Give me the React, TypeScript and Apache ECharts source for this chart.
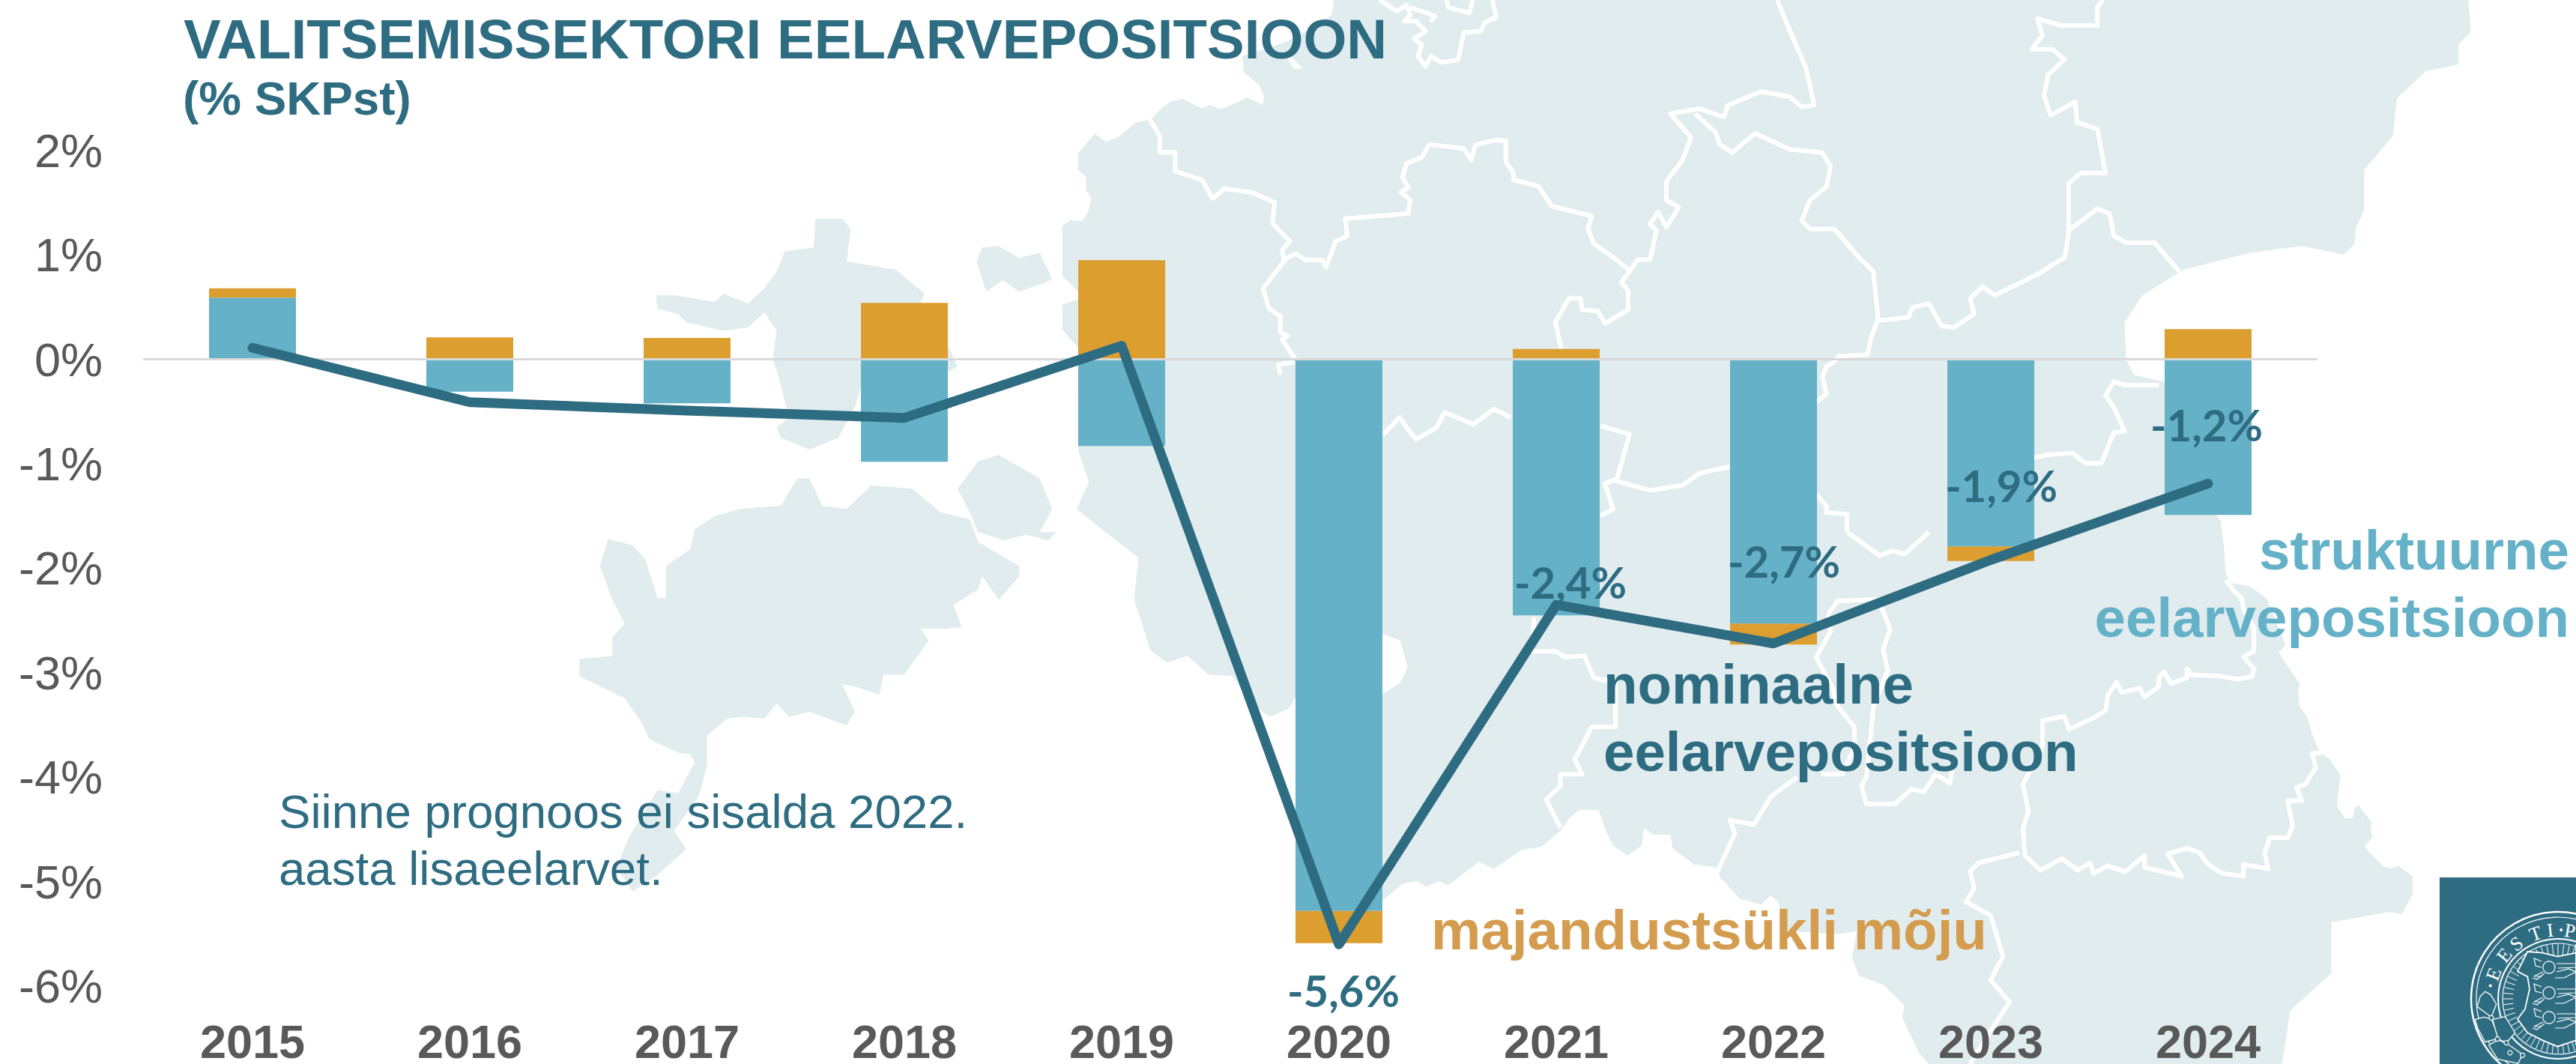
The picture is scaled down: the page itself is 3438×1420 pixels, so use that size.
import React, { useEffect, useRef } from "react";
import * as echarts from "echarts";

const categories = ["2015", "2016", "2017", "2018", "2019", "2020", "2021", "2022", "2023", "2024"];
const structural = [0.59, -0.31, -0.42, -0.98, -0.83, -5.28, -2.45, -2.53, -1.79, -1.49];
const cycle = [0.09, 0.21, 0.205, 0.54, 0.95, -0.31, 0.1, -0.2, -0.14, 0.29];
const nominal = [0.11, -0.41, -0.49, -0.56, 0.13, -5.6, -2.35, -2.72, -1.92, -1.19];
const nominalLabels = ["", "", "", "", "", "-5,6%", "-2,4%", "-2,7%", "-1,9%", "-1,2%"];
const labelOffsets = [[0, 0], [0, 0], [0, 0], [0, 0], [0, 0], [6, 61], [19, -31], [14, -110], [14, -100], [-2, -79]];
const yTickFormat = (v: number) => `${v}%`;

const TEAL = "#2E6C82";
const BLUE = "#65B1C8";
const ORANGE = "#DD9E30";
const MAPC = "#E1ECEF";
const GREY = "#595959";
const SANS = "'Liberation Sans', Arial, sans-serif";

// decorative background: crop-based tracing helpers
const crops: Record<string, number[]> = {
  a: [0, 0, 0.9116, 2.208],
  b: [1720, 0, 0.9127, 2.208],
  c: [0, 710, 0.9116, 2.208],
  d: [1720, 710, 0.9127, 2.208],
  f: [2700, 600, 2.125, 2.529],
  g: [1400, 0, 1.96, 3],
  h: [1700, 800, 1.568, 2.529],
  s: [3200, 1130, 3, 3],
};
const tr = (c: string, p: number[]) => {
  const [ox, oy, sx, sy] = crops[c];
  const out: number[][] = [];
  for (let i = 0; i < p.length; i += 2) out.push([ox + p[i] / sx, oy + p[i + 1] / sy]);
  return out;
};

const mainland = [
  ...tr("g", [745, 0, 740, 60, 690, 110, 615, 170, 505, 225, 510, 290, 550, 340, 563, 390, 558, 420, 520, 390, 500, 405, 450, 437, 420, 420, 400, 435, 350, 395, 320, 405, 295, 432, 265, 480, 228, 490, 180, 550, 150, 568, 120, 535, 100, 570, 76, 615, 76, 680, 97, 710, 97, 760, 110, 790, 105, 840, 88, 885, 55, 882, 35, 905, 35, 1105, 75, 1165, 90, 1190, 35, 1220, 35, 1320, 75, 1390]),
  ...tr("a", [1312, 1330, 1325, 1420, 1310, 1500, 1345, 1568]),
  ...tr("c", [1385, 75, 1380, 200, 1400, 350, 1420, 385, 1445, 365, 1470, 420, 1500, 425, 1520, 500, 1545, 545, 1568, 520]),
  ...tr("h", [40, 345, 130, 110, 227, 115, 265, 140, 280, 230, 265, 280, 228, 320, 150, 600, 150, 1000, 228, 1015, 270, 960, 300, 950, 320, 970, 345, 950, 365, 965, 410, 910, 430, 885, 460, 910, 520, 845, 560, 835, 600, 780, 620, 735, 640, 710, 680, 710, 695, 780, 710, 830, 740, 865, 770, 830, 775, 770, 795, 795, 830, 795, 835, 840, 880, 895, 925, 905, 935, 940, 975, 1010, 1020, 1030, 1040, 1000, 1055, 1020, 1075, 1120, 1180, 1130, 1220, 1120, 1210, 1210, 1225, 1270, 1275, 1300, 1320, 1370, 1315, 1410, 1350, 1530, 1370, 1568]),
  ...tr("d", [1210, 1568, 1220, 1410, 1270, 1300, 1270, 1150, 1340, 1120]),
  ...tr("f", [1075, 1568, 1105, 1500, 1105, 1440, 1065, 1405, 1045, 1415, 1020, 1405, 975, 1350, 970, 1335, 990, 1310, 985, 1270, 990, 1260, 950, 1200, 940, 1210, 935, 1245, 915, 1245, 890, 1205, 900, 1100, 870, 1045, 840, 1020, 820, 960, 805, 900, 785, 870, 780, 815, 785, 790, 750, 730, 725, 685, 745, 660, 690, 500, 640, 460, 590, 450, 575, 420, 570, 330, 560, 240, 548, 222]),
  ...tr("b", [1100, 1300, 1066, 1125, 1030, 1105, 1020, 1060, 1018, 950, 1040, 870, 1090, 795, 1170, 745, 1235, 725, 1285, 750, 1298, 720, 1300, 670, 1310, 620, 1310, 500, 1345, 400, 1350, 290, 1385, 210, 1425, 190, 1425, 130, 1440, 95, 1437, 0]),
];
const hiiumaa = tr("a", [992, 645, 1025, 645, 1035, 675, 1030, 770, 1090, 795, 1125, 865, 1120, 895, 1150, 1000, 1165, 1080, 1150, 1100, 1050, 1120, 1040, 1200, 1020, 1290, 985, 1325, 950, 1290, 945, 1260, 960, 1230, 945, 1090, 940, 1060, 945, 975, 930, 920, 910, 965, 880, 975, 835, 950, 825, 925, 800, 910, 798, 870, 820, 870, 870, 890, 880, 865, 910, 895, 930, 850, 945, 800, 955, 740, 990, 730]);
const vormsi = tr("a", [1195, 730, 1215, 725, 1240, 760, 1265, 745, 1280, 820, 1275, 830, 1240, 860, 1220, 825, 1200, 860, 1188, 770]);
const muhu = [
  ...tr("a", [1190, 1360, 1215, 1340, 1265, 1410, 1280, 1500, 1265, 1568]),
  ...tr("c", [1285, 0, 1275, 25, 1248, 8, 1222, 25, 1190, 0]),
  ...tr("a", [1180, 1510, 1165, 1440]),
];
const saaremaa = [
  ...tr("a", [845, 1560, 870, 1520, 900, 1500, 950, 1490, 970, 1410, 985, 1410, 1000, 1490, 1030, 1500, 1060, 1430, 1110, 1440, 1145, 1510, 1180, 1530]),
  ...tr("c", [1190, 30, 1240, 100, 1240, 130, 1215, 200, 1195, 130, 1190, 170, 1160, 215, 1170, 280, 1150, 285, 1120, 285, 1130, 320, 1100, 420, 1075, 420, 1070, 480, 1040, 455, 1025, 450, 1040, 530, 1030, 570, 985, 530, 960, 545, 945, 505, 930, 550, 905, 545, 885, 550, 860, 600, 860, 690, 850, 780, 820, 880, 835, 935, 800, 1010, 770, 1060, 750, 990, 765, 900, 800, 760, 825, 770, 845, 680, 840, 655, 825, 650, 790, 610, 780, 560, 760, 490, 705, 425, 705, 375, 745, 365, 745, 310, 760, 270, 745, 200, 730, 100, 740, 20, 770, 40, 785, 80, 800, 195, 810, 195, 810, 100, 840, 50]),
];
const inlet = tr("g", [620, 225, 640, 235, 662, 275, 640, 275]);
const borders = [
  tr("g", [865, 0, 910, 45, 935, 20, 945, 60, 930, 85, 960, 85, 985, 125, 955, 155, 975, 180, 965, 225, 985, 265, 1000, 225, 1025, 250, 1070, 240, 1085, 130, 1130, 125, 1140, 90, 1170, 70, 1160, 0]),
  tr("g", [945, 30, 985, 50, 1010, 65, 998, 88]),
  tr("g", [1040, 0, 1045, 30, 1100, 52, 1108, 0]),
  tr("g", [265, 480, 290, 545, 290, 610, 330, 610, 330, 685, 400, 720, 428, 795, 460, 755, 530, 770, 590, 810, 585, 895, 630, 965, 610, 1000, 615, 1045, 560, 1155, 575, 1235, 605, 1265, 605, 1330, 625, 1345, 610, 1360, 645, 1440]),
  tr("g", [640, 1450, 600, 1460, 605, 1500]),
  tr("g", [615, 1040, 645, 1015, 670, 1040, 715, 1040, 725, 1070, 750, 965, 780, 945, 775, 875, 940, 855, 945, 800, 920, 770, 940, 750, 925, 710, 935, 655, 975, 630, 995, 578, 1085, 595, 1105, 640, 1115, 580, 1170, 560, 1195, 565, 1195, 650, 1215, 690, 1215, 720, 1280, 745, 1315, 825, 1420, 865, 1410, 915, 1425, 975, 1480, 1035, 1520, 1085, 1497, 1130, 1515, 1165, 1515, 1240, 1455, 1295, 1435, 1245, 1395, 1240, 1390, 1195, 1360, 1195, 1325, 1290, 1340, 1395]),
  tr("b", [415, 800, 425, 765, 440, 765, 448, 680, 440, 660, 450, 625, 460, 670, 475, 610, 460, 590, 460, 535, 480, 470, 490, 405, 465, 335, 500, 320, 530, 345, 535, 310, 575, 270, 610, 285, 625, 315, 640, 310, 630, 200, 612, 100, 595, 0]),
  tr("b", [495, 335, 520, 390, 525, 425, 540, 450, 568, 393, 610, 440, 650, 450, 660, 490, 655, 550, 635, 590, 625, 650, 635, 675, 665, 675, 695, 760, 712, 800, 718, 940, 710, 990, 705, 1045, 670, 1050, 665, 1065, 655, 1080, 650, 1110, 655, 1160, 640, 1190]),
  tr("b", [718, 945, 755, 935, 760, 905, 780, 895, 795, 960, 810, 965, 835, 925, 830, 880, 845, 845, 860, 870, 915, 805, 930, 780, 945, 760, 950, 690, 950, 540, 965, 510, 995, 510, 985, 380, 960, 360, 958, 300, 928, 340, 920, 280, 925, 220, 945, 175, 930, 145, 905, 145, 918, 105, 912, 55, 940, 75, 985, 75, 985, 20, 992, 0]),
  tr("b", [950, 680, 985, 615, 1000, 630, 1005, 695, 1020, 715, 1055, 715, 1065, 745, 1085, 800]),
  tr("b", [1060, 1135, 1020, 1135, 1005, 1125, 995, 1165, 1005, 1200, 1018, 1270, 1005, 1275, 990, 1365, 970, 1365, 955, 1335, 925, 1340, 905, 1350]),
  tr("b", [380, 1255, 415, 1280, 400, 1410, 385, 1425, 395, 1500, 380, 1520]),
  tr("b", [395, 1415, 440, 1445, 480, 1430, 500, 1395, 537, 1375]),
  tr("b", [270, 1230, 250, 1205, 225, 1250, 190, 1215, 180, 1260, 155, 1295, 145, 1265, 135, 1230, 115, 1280]),
  tr("b", [640, 1450, 655, 1490, 655, 1510, 680, 1515, 680, 1568]),
  tr("d", [680, 0, 720, 70, 735, 55, 750, 65, 780, 0]),
  tr("h", [1160, 50, 1180, 5, 1265, 0, 1290, 100, 1275, 170, 1285, 240, 1255, 360, 1250, 450, 1240, 600, 1230, 630, 1240, 690, 1300, 690, 1335, 640, 1360, 650, 1385, 590, 1415, 620, 1420, 570]),
  tr("h", [1160, 50, 1165, 110, 1135, 195, 1170, 300, 1180, 360, 1215, 430, 1215, 500, 1190, 590, 1145, 590]),
  tr("h", [545, 60, 540, 175, 590, 175, 610, 195, 650, 190, 670, 265, 715, 280, 715, 430, 665, 430, 640, 510, 630, 540, 645, 590, 600, 590, 600, 630, 570, 675, 600, 770]),
  tr("h", [1095, 600, 1040, 665, 1005, 760, 955, 745, 965, 790, 925, 930]),
  tr("f", [575, 440, 600, 480, 620, 500, 625, 540, 655, 600, 655, 680, 625, 700, 655, 740, 650, 765, 610, 775, 560, 765, 480, 760, 465, 740, 465, 770, 420, 790, 400, 750, 385, 770, 385, 800, 345, 835, 330, 805, 280, 820, 265, 785, 240, 830, 235, 880, 200, 905, 130, 945, 118, 900, 55, 915, 55, 1000, 0, 1130, 15, 1220, 0, 1280, 5, 1370, 50, 1420, 110, 1380, 155, 1420, 190, 1395, 200, 1430, 240, 1405, 290, 1425, 345, 1370, 345, 1410, 450, 1440, 410, 1365, 465, 1345, 500, 1360, 525, 1400, 565, 1430, 625, 1440, 625, 1400, 695, 1415, 685, 1360, 700, 1310, 750, 1310, 765, 1270, 750, 1185, 790, 1185, 775, 1140, 800, 1130, 830, 1075, 820, 1025, 845, 1025]),
  tr("d", [890, 945, 840, 975, 830, 1000, 835, 1050, 825, 1090, 855, 1130, 870, 1250, 855, 1320, 878, 1385, 855, 1470, 830, 1568]),
];

// seal decoration
const SEAL = { x: 3414, y: 1333 };
const sealLetters = [["E", -69], ["E", -51], ["S", -37], ["T", -19], ["I", -6.5], ["P", 10]] as [string, number][];
const sealDots = [-79, 2.6];
const sealRings = [[116, 2.5], [109, 1.2], [80, 2], [74, 1.2]];
const shieldPts = tr("s", [714, 425, 640, 440, 580, 425, 520, 420, 480, 500, 520, 520, 528, 570, 510, 650, 480, 690, 520, 745, 580, 775, 640, 800, 714, 775]);
const leaves = [
  tr("s", [330, 600, 350, 580, 372, 592, 395, 630, 375, 682, 345, 660, 318, 640, 325, 618]),
  tr("s", [310, 692, 345, 682, 375, 690, 400, 750, 395, 770, 350, 782, 322, 730]),
  tr("s", [380, 692, 430, 680, 455, 720, 470, 745, 435, 785, 402, 770]),
  tr("s", [365, 795, 402, 772, 440, 790, 500, 832, 482, 868, 400, 850]),
];
const leafDots = tr("s", [375, 685, 400, 770, 435, 785, 450, 825, 500, 835]);
const lionRows = [1291, 1325, 1358];

function buildGraphics() {
  const els: any[] = [];
  for (const pts of [mainland, hiiumaa, vormsi, muhu, saaremaa]) {
    els.push({ type: "polygon", z: 0, silent: true, shape: { points: pts }, style: { fill: MAPC } });
  }
  els.push({ type: "polygon", z: 0, silent: true, shape: { points: inlet }, style: { fill: "#fff" } });
  for (const pts of borders) {
    els.push({ type: "polyline", z: 0, silent: true, shape: { points: pts }, style: { stroke: "#fff", lineWidth: 6, lineJoin: "round", fill: null } });
  }
  const txt = (text: string, x: number, baseline: number, size: number, color: string, bold = true, align = "left") => ({
    type: "text", z: 50, silent: true, x, y: baseline - size * 0.36,
    style: { text, fill: color, font: `${bold ? "bold " : ""}${size}px ${SANS}`, align, verticalAlign: "middle" },
  });
  els.push(txt("VALITSEMISSEKTORI EELARVEPOSITSIOON", 245, 79, 74.5, TEAL));
  els.push(txt("(% SKPst)", 244, 154, 63.8, TEAL));
  els.push(txt("Siinne prognoos ei sisalda 2022.", 372, 1105, 63.6, TEAL, false));
  els.push(txt("aasta lisaeelarvet.", 372, 1181, 63.6, TEAL, false));
  els.push(txt("nominaalne", 2140, 940, 74.5, TEAL));
  els.push(txt("eelarvepositsioon", 2140, 1030, 74.5, TEAL));
  els.push(txt("struktuurne", 3429, 761, 74.5, BLUE, true, "right"));
  els.push(txt("eelarvepositsioon", 3429, 851, 74.5, BLUE, true, "right"));
  els.push(txt("majandustsükli mõju", 1910, 1268, 74.6, "#D49C4F"));

  // logo
  els.push({ type: "rect", z: 60, silent: true, shape: { x: 3256, y: 1171, width: 182, height: 249 }, style: { fill: TEAL } });
  const stroke = { stroke: "#fff", fill: null };
  for (const [r, w] of sealRings) {
    els.push({ type: "circle", z: 61, silent: true, shape: { cx: SEAL.x, cy: SEAL.y, r }, style: { ...stroke, lineWidth: w } });
  }
  for (let a = 0; a < 360; a += 6) {
    const t = (a * Math.PI) / 180;
    const s = a > 250 && a < 300 ? 42 : 60;
    els.push({ type: "line", z: 61, silent: true, shape: { x1: SEAL.x + Math.cos(t) * s, y1: SEAL.y + Math.sin(t) * s, x2: SEAL.x + Math.cos(t) * 73, y2: SEAL.y + Math.sin(t) * 73 }, style: { stroke: "#fff", lineWidth: 1 } });
  }
  els.push({ type: "polygon", z: 62, silent: true, shape: { points: [...shieldPts, [3438, 1395], [3438, 1260]] }, style: { fill: TEAL, stroke: "#fff", lineWidth: 1.8 } });
  for (const [ch, ang] of sealLetters) {
    const t = (ang * Math.PI) / 180;
    els.push({ type: "text", z: 62, silent: true, x: SEAL.x + Math.sin(t) * 92, y: SEAL.y - Math.cos(t) * 92, rotation: -t, style: { text: ch, fill: "#fff", font: "26px 'Liberation Serif', serif", align: "center", verticalAlign: "middle" } });
  }
  for (const ang of sealDots) {
    const t = (ang * Math.PI) / 180;
    els.push({ type: "circle", z: 62, silent: true, shape: { cx: SEAL.x + Math.sin(t) * 92, cy: SEAL.y - Math.cos(t) * 92, r: 2 }, style: { fill: "#fff" } });
  }
  for (const pts of leaves) {
    els.push({ type: "polygon", z: 62, silent: true, shape: { points: pts }, style: { fill: TEAL, stroke: "#fff", lineWidth: 1.3 } });
  }
  for (const p of leafDots) {
    els.push({ type: "circle", z: 63, silent: true, shape: { cx: p[0], cy: p[1], r: 3 }, style: { fill: TEAL, stroke: "#fff", lineWidth: 1.2 } });
  }
  for (const ly of lionRows) {
    els.push({ type: "circle", z: 63, silent: true, shape: { cx: 3402, cy: ly, r: 8 }, style: { ...stroke, lineWidth: 1.2 } });
    const off = (c: number[]) => c.map((v, i) => (i % 2 ? ly + v : 3402 + v));
    const lines = [
      [-10, -8, -20, -12, -18, -2, -10, 0],
      [-8, 6, -20, 12, -10, 12],
      [-6, 8, -16, 16, -22, 14],
      [10, -5, 36, -5, 36, 0, 12, 1],
      [10, 6, 26, 2, 36, 6, 20, 14, 8, 14],
    ];
    for (const l of lines) {
      const c = off(l);
      const pts: number[][] = [];
      for (let i = 0; i < c.length; i += 2) pts.push([c[i], c[i + 1]]);
      els.push({ type: "polyline", z: 63, silent: true, shape: { points: pts }, style: { ...stroke, lineWidth: 1.2 } });
    }
  }
  return els;
}

export default function App() {
  const ref = useRef<HTMLDivElement>(null);
  useEffect(() => {
    const chart = echarts.init(ref.current!, undefined, { renderer: "svg" });
    chart.setOption({
      animation: false,
      backgroundColor: "#fff",
      grid: { left: 192, width: 2900, top: 200.8, height: 1115.2, containLabel: false, outerBoundsMode: "none" },
      xAxis: [
        {
          type: "category",
          position: "bottom",
          data: categories,
          z: 3,
          axisLine: { show: true, onZero: true, lineStyle: { color: "#D9D9D9", width: 3 } },
          axisTick: { show: false },
          axisLabel: { show: false },
        },
        {
          type: "category",
          position: "bottom",
          data: categories,
          axisLine: { show: false, onZero: false },
          axisTick: { show: false },
          axisLabel: { interval: 0, margin: 42, color: GREY, fontFamily: SANS, fontWeight: "bold", fontSize: 63 },
        },
      ],
      yAxis: {
        type: "value",
        min: -6,
        max: 2,
        interval: 1,
        splitLine: { show: false },
        axisLine: { show: false },
        axisTick: { show: false },
        axisLabel: { margin: 55, color: GREY, fontFamily: SANS, fontSize: 63, formatter: yTickFormat },
      },
      series: [
        { name: "struktuurne eelarvepositsioon", type: "bar", stack: "a", barWidth: "40%", z: 2, itemStyle: { color: BLUE }, data: structural },
        { name: "majandustsükli mõju", type: "bar", stack: "a", barWidth: "40%", z: 2, itemStyle: { color: ORANGE }, data: cycle },
        {
          name: "nominaalne eelarvepositsioon",
          type: "line",
          z: 4,
          symbol: "circle",
          symbolSize: 2,
          showSymbol: true,
          itemStyle: { color: TEAL },
          lineStyle: { color: TEAL, width: 13, cap: "round", join: "round" },
          label: {
            position: "inside",
            color: TEAL,
            fontFamily: "Lato, sans-serif",
            fontWeight: "bold",
            fontSize: 58,
            formatter: (p: any) => nominalLabels[p.dataIndex],
          },
          data: nominal.map((v, i) => ({
            value: v,
            label: { show: nominalLabels[i] !== "", position: "inside", offset: labelOffsets[i] },
          })),
        },
      ],
      graphic: { elements: buildGraphics() },
    });
    return () => chart.dispose();
  }, []);
  return <div ref={ref} style={{ position: "absolute", left: 0, top: 0, width: 3438, height: 1420, overflow: "hidden" }} />;
}
